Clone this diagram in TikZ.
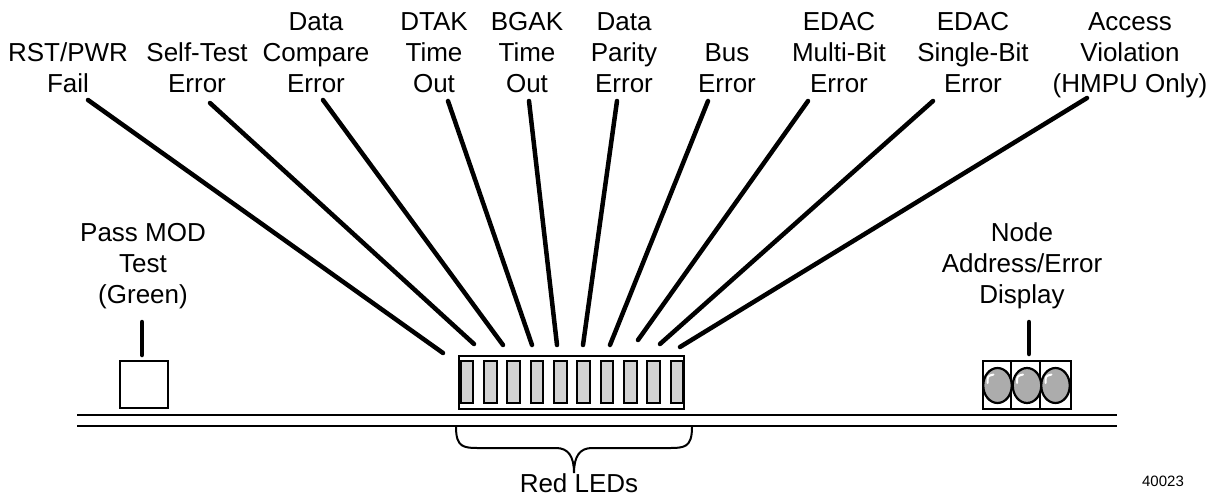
\documentclass[tikz,border=0pt]{standalone}
\usepackage{fontspec}
\setmainfont{Liberation Sans}
\usetikzlibrary{shapes.geometric}
\begin{document}
\begin{tikzpicture}[x=1pt,y=-1pt,
  lbl/.style={align=center, inner sep=0pt, anchor=base, font=\fontsize{26}{31}\selectfont},
  single/.style={inner sep=0pt, anchor=base, font=\fontsize{26}{31}\selectfont},
  lead/.style={line width=4.5pt, line cap=round},
  rail/.style={line width=2.6pt},
  boxline/.style={draw, line width=2.3pt, inner sep=0pt},
  ledcell/.style={draw, line width=2pt, fill=gray!35, inner sep=0pt, minimum width=12.5pt, minimum height=42pt},
  lamp/.style={draw, ellipse, line width=2.2pt, fill=gray!65, inner sep=0pt, minimum width=28.5pt, minimum height=35pt},
  shine/.style={white, line width=2pt, line cap=round},
  bracestyle/.style={line width=2pt}]
\useasboundingbox (0,0) rectangle (1215,498);
\fill[white] (0,0) rectangle (1215,498);

% top labels (anchor = baseline of last line)
\node[lbl] (l1) at (68,92) {RST/PWR\\Fail};
\node[lbl] (l2) at (197,92) {Self-Test\\Error};
\node[lbl] (l3) at (316,92) {Data\\Compare\\Error};
\node[lbl] (l4) at (434,92) {DTAK\\Time\\Out};
\node[lbl] (l5) at (527,92) {BGAK\\Time\\Out};
\node[lbl] (l6) at (624,92) {Data\\Parity\\Error};
\node[lbl] (l7) at (727,92) {Bus\\Error};
\node[lbl] (l8) at (839,92) {EDAC\\Multi-Bit\\Error};
\node[lbl] (l9) at (973,92) {EDAC\\Single-Bit\\Error};
\node[lbl] (l10) at (1130,92) {Access\\Violation\\(HMPU Only)};

% lead end points
\coordinate (t1) at (88,100);   \coordinate (b1) at (443,353);
\coordinate (t2) at (210,103);  \coordinate (b2) at (474,344);
\coordinate (t3) at (323,100);  \coordinate (b3) at (503,345);
\coordinate (t4) at (448,101);  \coordinate (b4) at (532,345);
\coordinate (t5) at (529,101);  \coordinate (b5) at (557,345);
\coordinate (t6) at (617,101);  \coordinate (b6) at (583,345);
\coordinate (t7) at (708,101);  \coordinate (b7) at (610,345);
\coordinate (t8) at (808,101);  \coordinate (b8) at (638,340);
\coordinate (t9) at (933,101);  \coordinate (b9) at (660,344);
\coordinate (t10) at (1087,98); \coordinate (b10) at (680,347);
\foreach \i in {1,...,10} \draw[lead] (t\i) -- (b\i);

% side labels
\node[lbl] (pass) at (143,303) {Pass MOD\\Test\\(Green)};
\node[lbl] (nodelbl) at (1022,303) {Node\\Address/Error\\Display};

% green LED
\node[boxline, minimum width=48pt, minimum height=47pt] (green) at (144,384.5) {};
\coordinate (gs1) at (142,322); \coordinate (gs2) at (142,355);
\draw[lead] (gs1) -- (gs2);

% red LED bar
\node[boxline, line width=2.2pt, minimum width=225pt, minimum height=53pt] (bar) at (571.5,382.5) {};
\foreach \i in {0,...,9} \node[ledcell] (led\i) at (467+23.33*\i,382) {};

% display
\node[boxline, line width=2pt, minimum width=88pt, minimum height=48pt] (disp) at (1027,385) {};
\coordinate (dv1a) at (1011,361); \coordinate (dv1b) at (1011,409);
\coordinate (dv2a) at (1040,361); \coordinate (dv2b) at (1040,409);
\draw[line width=1.5pt] (dv1a) -- (dv1b);
\draw[line width=1.5pt] (dv2a) -- (dv2b);
\node[lamp] (lamp1) at (997.5,385.5) {};
\node[lamp] (lamp2) at (1027,385.5) {};
\node[lamp] (lamp3) at (1055.5,385.5) {};
\foreach \cx in {997.5,1027,1055.5}
  \draw[shine] (\cx-10,383) .. controls (\cx-10,376) .. (\cx-4,374.5);
\coordinate (ds1) at (1029,322); \coordinate (ds2) at (1029,354);
\draw[lead] (ds1) -- (ds2);

% rails
\coordinate (r1a) at (77,415); \coordinate (r1b) at (1117,415);
\coordinate (r2a) at (77,426); \coordinate (r2b) at (1117,426);
\draw[rail] (r1a) -- (r1b);
\draw[rail] (r2a) -- (r2b);

% brace
\coordinate (brL) at (456,427); \coordinate (brR) at (692,427); \coordinate (brT) at (574,473);
\draw[bracestyle] (brL) .. controls (456,448) and (464,448) .. (480,448) -- (556,448)
  .. controls (568,448) and (574,456) .. (brT)
  .. controls (574,456) and (580,448) .. (592,448) -- (668,448)
  .. controls (684,448) and (692,448) .. (brR);
\node[single] (redleds) at (579,492) {Red LEDs};

\node[inner sep=0pt, anchor=base, font=\fontsize{15}{18}\selectfont] (fignum) at (1163,486) {40023};
\end{tikzpicture}
\end{document}
